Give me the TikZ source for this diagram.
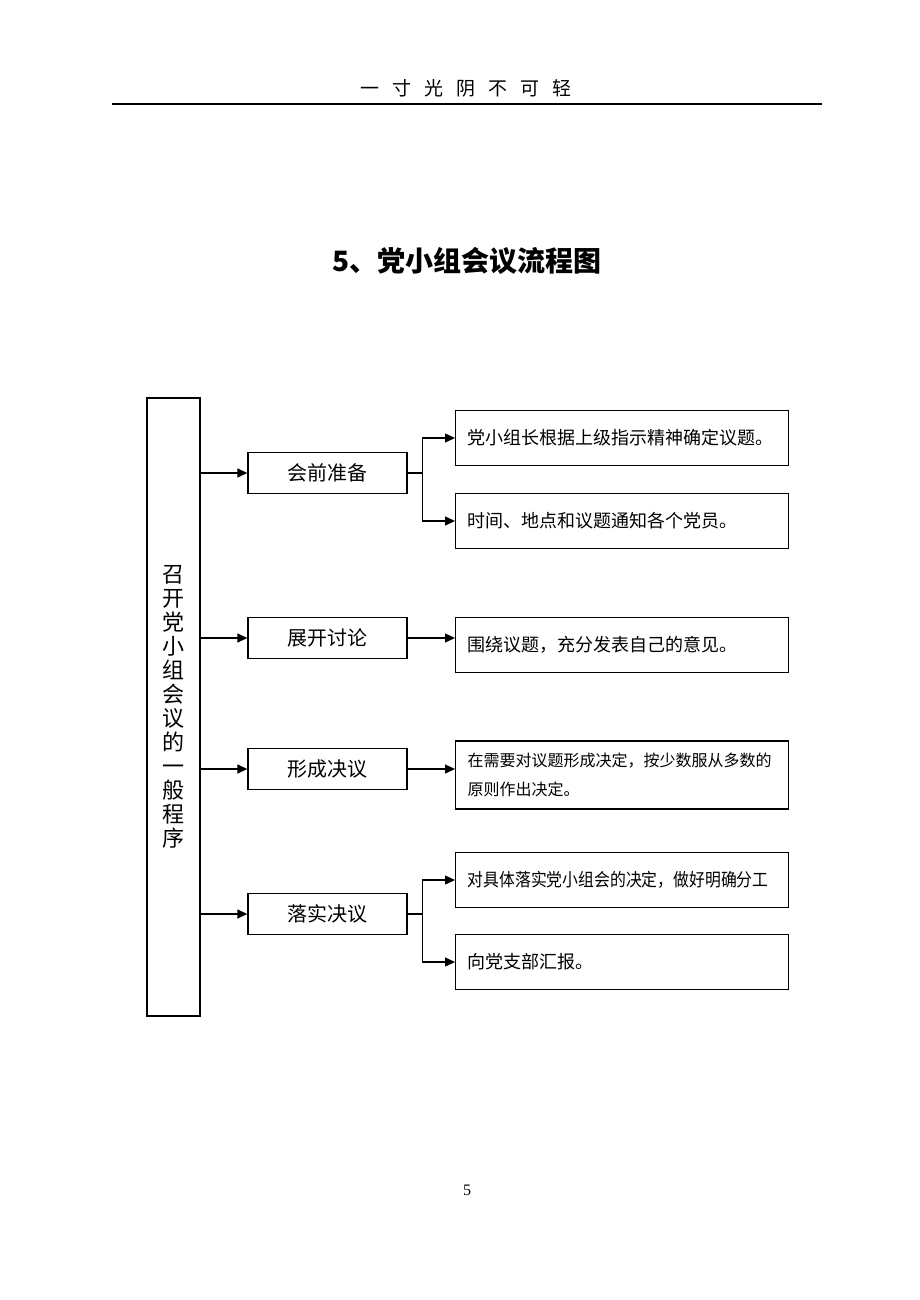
\documentclass[tikz,border=0pt]{standalone}
\usepackage{fontspec}
\usepackage{graphicx}
\setmainfont{Noto Sans CJK SC}
\newfontfamily\pagenum{Liberation Serif}
\XeTeXlinebreaklocale "zh"
\usetikzlibrary{arrows.meta}

\begin{document}
\begin{tikzpicture}[x=1pt,y=-1pt,
    stage/.style={draw,rectangle,line width=1.3pt,minimum width=159pt,minimum height=41pt,
      font=\fontsize{20}{24}\selectfont},
    item/.style={draw,rectangle,line width=1.3pt,anchor=west,minimum height=55pt,
      text width=309pt,inner xsep=12pt,align=left,font=\fontsize{18}{22}\selectfont},
    link/.style={draw,line width=1.3pt,-{Triangle[length=10pt,width=9pt]}}]

  \useasboundingbox (0,0) rectangle (920,1300);

  \node (head) at (466,88) {\fontsize{19}{22}\selectfont
    一\hspace{13pt}寸\hspace{13pt}光\hspace{13pt}阴\hspace{13pt}不\hspace{13pt}可\hspace{13pt}轻};
  \draw [line width=2pt] (112,104) -- (822,104);

  \node (title) at (467,261) {\bfseries\fontsize{28}{32}\selectfont 5、党小组会议流程图};

  \node [draw,rectangle,line width=1.3pt,minimum width=53pt,minimum height=618pt,
    align=center,font=\fontsize{22}{24}\selectfont] (root) at (173.5,707)
    {召\\开\\党\\小\\组\\会\\议\\的\\一\\般\\程\\序};

  \node [stage] (s_1) at (327.5,473) {会前准备};
  \node [stage] (s_2) at (327.5,638) {展开讨论};
  \node [stage] (s_3) at (327.5,769) {形成决议};
  \node [stage] (s_4) at (327.5,914) {落实决议};

  \node [item] (t_1) at (455,438) {党小组长根据上级指示精神确定议题。};
  \node [item] (t_2) at (455,521) {时间、地点和议题通知各个党员。};
  \node [item] (t_3) at (455,645) {围绕议题，充分发表自己的意见。};
  \node [item,minimum height=68pt,font=\fontsize{16}{29}\selectfont] (t_4) at (455,775)
    {在需要对议题形成决定，按少数服从多数的\\原则作出决定。};
  \node [item] (t_5) at (455,880) {\scalebox{0.88}[1]{对具体落实党小组会的决定，做好明确分工}};
  \node [item] (t_6) at (455,962) {向党支部汇报。};

  \draw [link] (root.east |- s_1.west) -- (s_1.west);
  \draw [link] (root.east |- s_2.west) -- (s_2.west);
  \draw [link] (root.east |- s_3.west) -- (s_3.west);
  \draw [link] (root.east |- s_4.west) -- (s_4.west);
  \draw [link] (s_2.east) -- (s_2.east -| t_3.west);
  \draw [link] (s_3.east) -- (s_3.east -| t_4.west);

  \draw [link] (s_1.east) -- ++(15,0) |- (t_1.west);
  \draw [link] (s_1.east) -- ++(15,0) |- (t_2.west);
  \draw [link] (s_4.east) -- ++(15,0) |- (t_5.west);
  \draw [link] (s_4.east) -- ++(15,0) |- (t_6.west);

  \node (pageno) at (467,1190) {\pagenum\fontsize{16}{18}\selectfont 5};

\end{tikzpicture}
\end{document}
